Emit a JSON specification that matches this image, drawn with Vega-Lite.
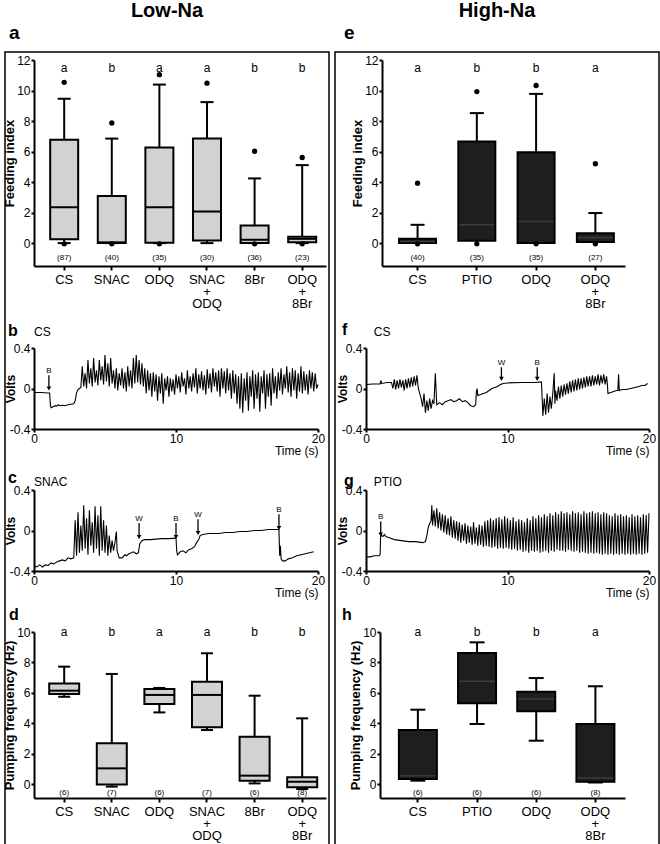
{
"$schema": "https://vega.github.io/schema/vega-lite/v6.json",
"padding": {"left": 3, "top": 0, "right": 3, "bottom": 0},
"config": {
  "font": "Liberation Sans",
  "view": {"stroke": null},
  "axis": {"grid": false, "domainColor": "#000", "domainWidth": 2, "tickColor": "#000", "tickWidth": 2, "labelColor": "#000", "titleColor": "#000", "labelFont": "Liberation Sans", "titleFont": "Liberation Sans", "labelFontSize": 12, "titleFontSize": 13, "titleFontWeight": "bold", "labelOverlap": false},
  "title": {"font": "Liberation Sans", "color": "#000"},
  "text": {"font": "Liberation Sans", "color": "#000", "fill": "#000"}
},
"datasets": {
  "feedLow": [
    {"g": "CS", "lo": 0, "q1": 0.26, "med": 2.35, "q3": 6.78, "hi": 9.46, "sig": "a", "n": "(87)"},
    {"g": "SNAC", "lo": 0, "q1": 0, "med": 0.05, "q3": 3.09, "hi": 6.85, "sig": "b", "n": "(40)"},
    {"g": "ODQ", "lo": 0, "q1": 0.02, "med": 2.35, "q3": 6.26, "hi": 10.39, "sig": "a", "n": "(35)"},
    {"g": "SNAC + ODQ", "lo": 0, "q1": 0.17, "med": 2.07, "q3": 6.85, "hi": 9.24, "sig": "a", "n": "(30)"},
    {"g": "8Br", "lo": 0, "q1": 0, "med": 0.22, "q3": 1.15, "hi": 4.24, "sig": "b", "n": "(36)"},
    {"g": "ODQ + 8Br", "lo": 0, "q1": 0.05, "med": 0.28, "q3": 0.42, "hi": 5.11, "sig": "b", "n": "(23)"}
  ],
  "feedLowPts": [
    {"g": "CS", "v": 10.54}, {"g": "CS", "v": -0.05},
    {"g": "SNAC", "v": 7.87}, {"g": "SNAC", "v": -0.05},
    {"g": "ODQ", "v": 11.04}, {"g": "ODQ", "v": -0.05},
    {"g": "SNAC + ODQ", "v": 10.48},
    {"g": "8Br", "v": 6.02}, {"g": "8Br", "v": -0.05},
    {"g": "ODQ + 8Br", "v": 5.61}, {"g": "ODQ + 8Br", "v": -0.05}
  ],
  "feedHigh": [
    {"g": "CS", "lo": 0, "q1": 0, "med": 0.1, "q3": 0.28, "hi": 1.2, "sig": "a", "n": "(40)"},
    {"g": "PTIO", "lo": 0, "q1": 0.15, "med": 1.2, "q3": 6.66, "hi": 8.52, "sig": "b", "n": "(35)"},
    {"g": "ODQ", "lo": 0, "q1": 0, "med": 1.42, "q3": 5.96, "hi": 9.78, "sig": "b", "n": "(35)"},
    {"g": "ODQ + 8Br", "lo": 0, "q1": 0.07, "med": 0.37, "q3": 0.65, "hi": 1.97, "sig": "a", "n": "(27)"}
  ],
  "feedHighPts": [
    {"g": "CS", "v": 3.93}, {"g": "CS", "v": -0.05},
    {"g": "PTIO", "v": 9.93}, {"g": "PTIO", "v": -0.05},
    {"g": "ODQ", "v": 10.33}, {"g": "ODQ", "v": -0.05},
    {"g": "ODQ + 8Br", "v": 5.2}, {"g": "ODQ + 8Br", "v": -0.05}
  ],
  "pumpLow": [
    {"g": "CS", "lo": 5.74, "q1": 5.92, "med": 6.14, "q3": 6.62, "hi": 7.72, "sig": "a", "n": "(6)"},
    {"g": "SNAC", "lo": -0.17, "q1": -0.04, "med": 1.03, "q3": 2.68, "hi": 7.24, "sig": "b", "n": "(7)"},
    {"g": "ODQ", "lo": 4.71, "q1": 5.26, "med": 5.86, "q3": 6.25, "hi": 6.32, "sig": "a", "n": "(6)"},
    {"g": "SNAC + ODQ", "lo": 3.55, "q1": 3.73, "med": 5.86, "q3": 6.73, "hi": 8.6, "sig": "a", "n": "(7)"},
    {"g": "8Br", "lo": 0.04, "q1": 0.22, "med": 0.55, "q3": 3.11, "hi": 5.81, "sig": "b", "n": "(6)"},
    {"g": "ODQ + 8Br", "lo": -0.33, "q1": -0.22, "med": 0.15, "q3": 0.44, "hi": 4.32, "sig": "b", "n": "(8)"}
  ],
  "pumpHigh": [
    {"g": "CS", "lo": 0.22, "q1": 0.33, "med": 0.55, "q3": 3.55, "hi": 4.89, "sig": "a", "n": "(6)"},
    {"g": "PTIO", "lo": 3.95, "q1": 5.31, "med": 6.76, "q3": 8.62, "hi": 9.32, "sig": "b", "n": "(6)"},
    {"g": "ODQ", "lo": 2.85, "q1": 4.78, "med": 5.59, "q3": 6.07, "hi": 6.97, "sig": "b", "n": "(6)"},
    {"g": "ODQ + 8Br", "lo": 0.1, "q1": 0.15, "med": 0.39, "q3": 3.95, "hi": 6.43, "sig": "a", "n": "(8)"}
  ],
  "arB": [{"t": 1.05, "top": 0.13, "tip": 0.0, "lab": "B"}],
  "arC": [{"t": 7.4, "top": 0.075, "tip": -0.065, "lab": "W"}, {"t": 10.0, "top": 0.075, "tip": -0.065, "lab": "B"}, {"t": 11.55, "top": 0.11, "tip": -0.025, "lab": "W"}, {"t": 17.25, "top": 0.16, "tip": 0.025, "lab": "B"}],
  "arF": [{"t": 9.57, "top": 0.21, "tip": 0.095, "lab": "W"}, {"t": 12.1, "top": 0.21, "tip": 0.095, "lab": "B"}],
  "arG": [{"t": 1.04, "top": 0.09, "tip": -0.04, "lab": "B"}],
  "trB": [
    {"t":0,"v":-0.04},{"t":0.5,"v":-0.04},{"t":1.0,"v":-0.045},{"t":1.1,"v":-0.045},{"t":1.15,"v":-0.15},{"t":1.2,"v":-0.19},{"t":1.35,"v":-0.18},{"t":1.5,"v":-0.17},{"t":1.6,"v":-0.175},{"t":1.7,"v":-0.16},{"t":1.8,"v":-0.17},{"t":2.0,"v":-0.165},{"t":2.2,"v":-0.17},{"t":2.4,"v":-0.16},{"t":2.6,"v":-0.155},{"t":2.8,"v":-0.15},{"t":2.9,"v":-0.12},{"t":3.0,"v":-0.04},{"t":3.1,"v":-0.01},{"t":3.2,"v":0.0},{"t":3.3,"v":0.01},
    {"t":3.4,"v":0.22},{"t":3.5,"v":0.02},{"t":3.6,"v":0.15},{"t":3.7,"v":0.0},{"t":3.8,"v":0.28},{"t":3.9,"v":0.05},{"t":4.0,"v":0.2},{"t":4.1,"v":0.02},{"t":4.2,"v":0.3},{"t":4.3,"v":0.06},{"t":4.4,"v":0.18},{"t":4.5,"v":0.03},{"t":4.6,"v":0.28},{"t":4.7,"v":0.08},{"t":4.8,"v":0.22},{"t":4.9,"v":0.04},{"t":5.0,"v":0.33},{"t":5.1,"v":0.07},{"t":5.2,"v":0.25},{"t":5.3,"v":0.02},{"t":5.4,"v":0.3},{"t":5.5,"v":0.05},{"t":5.6,"v":0.18},{"t":5.7,"v":0.0},{"t":5.8,"v":0.2},{"t":5.9,"v":-0.02},{"t":6.0,"v":0.15},{"t":6.1,"v":0.03},{"t":6.2,"v":0.2},{"t":6.3,"v":0.0},{"t":6.4,"v":0.16},{"t":6.5,"v":-0.03},{"t":6.6,"v":0.22},{"t":6.7,"v":0.02},{"t":6.8,"v":0.18},{"t":6.9,"v":0.0},{"t":7.0,"v":0.3},{"t":7.1,"v":0.05},{"t":7.2,"v":0.33},{"t":7.3,"v":0.06},{"t":7.4,"v":0.28},{"t":7.5,"v":0.04},{"t":7.6,"v":0.25},{"t":7.7,"v":0.02},{"t":7.8,"v":0.2},{"t":7.9,"v":-0.05},{"t":8.0,"v":0.18},{"t":8.1,"v":-0.02},{"t":8.2,"v":0.15},{"t":8.3,"v":-0.08},{"t":8.4,"v":0.16},{"t":8.5,"v":-0.03},{"t":8.6,"v":0.14},{"t":8.7,"v":-0.12},{"t":8.8,"v":0.12},{"t":8.9,"v":-0.05},{"t":9.0,"v":0.15},{"t":9.1,"v":-0.15},{"t":9.2,"v":0.1},{"t":9.3,"v":-0.02},{"t":9.4,"v":0.12},{"t":9.5,"v":-0.08},{"t":9.6,"v":0.1},{"t":9.7,"v":-0.03},{"t":9.8,"v":0.09},{"t":9.9,"v":-0.06},
    {"t":10.0,"v":0.14},{"t":10.1,"v":0.0},{"t":10.2,"v":0.12},{"t":10.3,"v":-0.04},{"t":10.4,"v":0.16},{"t":10.5,"v":0.02},{"t":10.6,"v":0.1},{"t":10.7,"v":-0.06},{"t":10.8,"v":0.18},{"t":10.9,"v":0.0},{"t":11.0,"v":0.12},{"t":11.1,"v":-0.03},{"t":11.2,"v":0.15},{"t":11.3,"v":0.01},{"t":11.4,"v":0.2},{"t":11.5,"v":-0.05},{"t":11.6,"v":0.14},{"t":11.7,"v":0.0},{"t":11.8,"v":0.17},{"t":11.9,"v":-0.02},{"t":12.0,"v":0.13},{"t":12.1,"v":-0.06},{"t":12.2,"v":0.19},{"t":12.3,"v":0.0},{"t":12.4,"v":0.15},{"t":12.5,"v":-0.04},{"t":12.6,"v":0.2},{"t":12.7,"v":0.02},{"t":12.8,"v":0.16},{"t":12.9,"v":-0.03},{"t":13.0,"v":0.18},{"t":13.1,"v":-0.08},{"t":13.2,"v":0.2},{"t":13.3,"v":0.0},{"t":13.4,"v":0.17},{"t":13.5,"v":-0.05},{"t":13.6,"v":0.2},{"t":13.7,"v":-0.02},{"t":13.8,"v":0.15},{"t":13.9,"v":-0.1},{"t":14.0,"v":0.18},{"t":14.1,"v":-0.05},{"t":14.2,"v":0.14},{"t":14.3,"v":-0.15},{"t":14.4,"v":0.12},{"t":14.5,"v":-0.2},{"t":14.6,"v":0.15},{"t":14.7,"v":-0.24},{"t":14.8,"v":0.1},{"t":14.9,"v":-0.12},{"t":15.0,"v":0.16},{"t":15.1,"v":-0.22},{"t":15.2,"v":0.12},{"t":15.3,"v":-0.08},{"t":15.4,"v":0.18},{"t":15.5,"v":-0.2},{"t":15.6,"v":0.14},{"t":15.7,"v":-0.1},{"t":15.8,"v":0.16},{"t":15.9,"v":-0.23},{"t":16.0,"v":0.12},{"t":16.1,"v":-0.05},{"t":16.2,"v":0.18},{"t":16.3,"v":-0.2},{"t":16.4,"v":0.14},{"t":16.5,"v":-0.08},{"t":16.6,"v":0.15},{"t":16.7,"v":-0.17},{"t":16.8,"v":0.2},{"t":16.9,"v":-0.05},{"t":17.0,"v":0.12},{"t":17.1,"v":-0.1},{"t":17.2,"v":0.16},{"t":17.3,"v":-0.02},{"t":17.4,"v":0.2},{"t":17.5,"v":-0.06},{"t":17.6,"v":0.14},{"t":17.7,"v":0.0},{"t":17.8,"v":0.22},{"t":17.9,"v":-0.04},{"t":18.0,"v":0.16},{"t":18.1,"v":-0.08},{"t":18.2,"v":0.2},{"t":18.3,"v":-0.02},{"t":18.4,"v":0.18},{"t":18.5,"v":-0.1},{"t":18.6,"v":0.15},{"t":18.7,"v":-0.03},{"t":18.8,"v":0.22},{"t":18.9,"v":-0.05},{"t":19.0,"v":0.17},{"t":19.1,"v":-0.02},{"t":19.2,"v":0.14},{"t":19.3,"v":-0.06},{"t":19.4,"v":0.18},{"t":19.5,"v":0.0},{"t":19.6,"v":0.16},{"t":19.7,"v":-0.03},{"t":19.8,"v":0.15},{"t":19.9,"v":0.0},{"t":20.0,"v":0.04}
  ],
  "trC": [
    {"t":0,"v":-0.35},{"t":0.2,"v":-0.36},{"t":0.4,"v":-0.34},{"t":0.6,"v":-0.36},{"t":0.8,"v":-0.34},{"t":1.0,"v":-0.345},{"t":1.2,"v":-0.32},{"t":1.4,"v":-0.33},{"t":1.6,"v":-0.31},{"t":1.8,"v":-0.3},{"t":2.0,"v":-0.29},{"t":2.2,"v":-0.3},{"t":2.4,"v":-0.27},{"t":2.6,"v":-0.28},{"t":2.8,"v":-0.27},
    {"t":2.9,"v":0.1},{"t":3.0,"v":-0.25},{"t":3.1,"v":0.18},{"t":3.2,"v":-0.22},{"t":3.3,"v":0.05},{"t":3.4,"v":-0.2},{"t":3.5,"v":0.25},{"t":3.6,"v":-0.18},{"t":3.7,"v":0.12},{"t":3.8,"v":-0.24},{"t":3.9,"v":0.2},{"t":4.0,"v":-0.15},{"t":4.1,"v":0.08},{"t":4.2,"v":-0.22},{"t":4.3,"v":0.24},{"t":4.4,"v":-0.18},{"t":4.5,"v":0.15},{"t":4.6,"v":-0.25},{"t":4.7,"v":0.24},{"t":4.8,"v":-0.2},{"t":4.9,"v":0.1},{"t":5.0,"v":-0.22},{"t":5.1,"v":0.05},{"t":5.2,"v":-0.25},{"t":5.3,"v":-0.05},{"t":5.4,"v":-0.22},{"t":5.5,"v":-0.1},{"t":5.6,"v":-0.2},{"t":5.7,"v":-0.12},{"t":5.8,"v":-0.01},{"t":5.85,"v":-0.2},{"t":6.0,"v":-0.27},{"t":6.2,"v":-0.27},{"t":6.4,"v":-0.24},{"t":6.5,"v":-0.25},{"t":6.7,"v":-0.23},{"t":7.0,"v":-0.21},{"t":7.2,"v":-0.23},{"t":7.35,"v":-0.22},{"t":7.45,"v":-0.13},{"t":7.6,"v":-0.1},{"t":7.8,"v":-0.09},{"t":8.2,"v":-0.09},{"t":8.6,"v":-0.085},{"t":9.0,"v":-0.08},{"t":9.5,"v":-0.08},{"t":10.0,"v":-0.075},{"t":10.05,"v":-0.2},{"t":10.1,"v":-0.24},{"t":10.3,"v":-0.21},{"t":10.5,"v":-0.2},{"t":10.7,"v":-0.22},{"t":10.9,"v":-0.19},{"t":11.1,"v":-0.18},{"t":11.3,"v":-0.16},{"t":11.45,"v":-0.12},{"t":11.6,"v":-0.09},{"t":11.7,"v":-0.05},{"t":11.9,"v":-0.04},{"t":12.3,"v":-0.03},{"t":13.0,"v":-0.03},{"t":13.5,"v":-0.02},{"t":14.0,"v":-0.02},{"t":14.5,"v":-0.01},{"t":15.0,"v":-0.01},{"t":15.5,"v":0.0},{"t":16.0,"v":0.0},{"t":16.5,"v":0.01},{"t":17.0,"v":0.01},{"t":17.25,"v":0.01},{"t":17.3,"v":-0.25},{"t":17.35,"v":-0.15},{"t":17.4,"v":-0.28},{"t":17.5,"v":-0.3},{"t":17.7,"v":-0.3},{"t":17.9,"v":-0.28},{"t":18.2,"v":-0.27},{"t":18.5,"v":-0.25},{"t":18.8,"v":-0.24},{"t":19.1,"v":-0.23},{"t":19.4,"v":-0.22},{"t":19.7,"v":-0.21}
  ],
  "trF": [
    {"t":0,"v":0.04},{"t":0.5,"v":0.045},{"t":1.0,"v":0.045},{"t":1.05,"v":0.08},{"t":1.1,"v":0.05},{"t":1.5,"v":0.06},{"t":1.8,"v":0.06},{"t":1.9,"v":0.0},{"t":2.0,"v":0.09},{"t":2.1,"v":-0.01},{"t":2.2,"v":0.08},{"t":2.3,"v":0.0},{"t":2.4,"v":0.09},{"t":2.5,"v":0.01},{"t":2.6,"v":0.08},{"t":2.7,"v":-0.02},{"t":2.8,"v":0.09},{"t":2.9,"v":0.0},{"t":3.0,"v":0.1},{"t":3.1,"v":0.01},{"t":3.2,"v":0.11},{"t":3.3,"v":0.02},{"t":3.4,"v":0.12},{"t":3.5,"v":0.03},{"t":3.6,"v":0.13},{"t":3.7,"v":0.0},{"t":3.8,"v":-0.05},{"t":3.9,"v":-0.1},{"t":4.0,"v":-0.18},{"t":4.1,"v":-0.05},{"t":4.2,"v":-0.24},{"t":4.3,"v":-0.12},{"t":4.4,"v":-0.22},{"t":4.5,"v":-0.1},{"t":4.6,"v":-0.2},{"t":4.7,"v":-0.12},{"t":4.8,"v":-0.15},{"t":4.9,"v":0.15},{"t":5.0,"v":-0.16},{"t":5.2,"v":-0.14},{"t":5.4,"v":-0.16},{"t":5.6,"v":-0.13},{"t":5.8,"v":-0.12},{"t":6.0,"v":-0.11},{"t":6.2,"v":-0.13},{"t":6.4,"v":-0.12},{"t":6.6,"v":-0.1},{"t":6.8,"v":-0.13},{"t":7.0,"v":-0.12},{"t":7.2,"v":-0.14},{"t":7.4,"v":-0.17},{"t":7.6,"v":-0.18},{"t":7.75,"v":-0.16},{"t":7.8,"v":-0.03},{"t":7.85,"v":0.0},{"t":7.9,"v":-0.07},{"t":8.1,"v":-0.06},{"t":8.3,"v":-0.05},{"t":8.5,"v":-0.04},{"t":8.7,"v":-0.02},{"t":8.9,"v":0.0},{"t":9.1,"v":0.01},{"t":9.3,"v":0.02},{"t":9.5,"v":0.04},{"t":9.7,"v":0.05},{"t":10,"v":0.055},{"t":11,"v":0.06},{"t":12,"v":0.06},{"t":12.4,"v":0.065},{"t":12.45,"v":-0.1},{"t":12.5,"v":-0.27},{"t":12.6,"v":-0.1},{"t":12.7,"v":-0.26},{"t":12.8,"v":-0.05},{"t":12.9,"v":-0.24},{"t":13.0,"v":-0.08},{"t":13.1,"v":-0.2},{"t":13.2,"v":-0.05},{"t":13.3,"v":0.15},{"t":13.35,"v":-0.15},{"t":13.4,"v":-0.02},{"t":13.5,"v":-0.12},{"t":13.6,"v":0.02},{"t":13.7,"v":-0.1},{"t":13.8,"v":0.03},{"t":13.9,"v":-0.08},{"t":14.0,"v":0.04},{"t":14.1,"v":-0.06},{"t":14.2,"v":0.05},{"t":14.3,"v":-0.05},{"t":14.4,"v":0.07},{"t":14.5,"v":-0.04},{"t":14.6,"v":0.08},{"t":14.7,"v":-0.03},{"t":14.8,"v":0.09},{"t":14.9,"v":-0.02},{"t":15.0,"v":0.1},{"t":15.1,"v":-0.01},{"t":15.2,"v":0.1},{"t":15.3,"v":0.0},{"t":15.4,"v":0.11},{"t":15.5,"v":0.01},{"t":15.6,"v":0.12},{"t":15.7,"v":0.02},{"t":15.8,"v":0.12},{"t":15.9,"v":0.02},{"t":16.0,"v":0.13},{"t":16.1,"v":0.03},{"t":16.2,"v":0.12},{"t":16.3,"v":0.04},{"t":16.4,"v":0.14},{"t":16.5,"v":0.03},{"t":16.6,"v":0.13},{"t":16.7,"v":0.05},{"t":16.8,"v":0.14},{"t":16.9,"v":0.04},{"t":17.0,"v":0.12},{"t":17.05,"v":0.06},{"t":17.1,"v":-0.05},{"t":17.3,"v":-0.04},{"t":17.5,"v":-0.03},{"t":17.7,"v":-0.02},{"t":17.8,"v":-0.02},{"t":17.85,"v":0.14},{"t":17.9,"v":-0.02},{"t":18.1,"v":-0.01},{"t":18.4,"v":-0.01},{"t":18.7,"v":0.0},{"t":19.0,"v":0.01},{"t":19.3,"v":0.02},{"t":19.5,"v":0.03},{"t":19.7,"v":0.03},{"t":19.9,"v":0.05}
  ],
  "trG": [
    {"t":0,"v":-0.26},{"t":0.3,"v":-0.26},{"t":0.6,"v":-0.25},{"t":0.9,"v":-0.25},{"t":1.0,"v":-0.24},{"t":1.03,"v":-0.06},{"t":1.1,"v":-0.05},{"t":1.2,"v":-0.06},{"t":1.3,"v":-0.04},{"t":1.4,"v":-0.06},{"t":1.6,"v":-0.07},{"t":1.8,"v":-0.08},{"t":2.0,"v":-0.09},{"t":2.5,"v":-0.1},{"t":3.0,"v":-0.11},{"t":3.5,"v":-0.11},{"t":4.0,"v":-0.12},{"t":4.2,"v":-0.11},{"t":4.3,"v":-0.05},{"t":4.4,"v":0.03},{"t":4.5,"v":0.07},{"t":4.6,"v":0.1},{"t":4.65,"v":0.25},
    {"t":4.7,"v":0.05},{"t":4.8,"v":0.2},{"t":4.9,"v":0.04},{"t":5.0,"v":0.22},{"t":5.1,"v":0.02},{"t":5.2,"v":0.18},{"t":5.3,"v":0.0},{"t":5.4,"v":0.16},{"t":5.5,"v":-0.02},{"t":5.6,"v":0.15},{"t":5.7,"v":-0.04},{"t":5.8,"v":0.12},{"t":5.9,"v":-0.05},{"t":6.0,"v":0.14},{"t":6.1,"v":-0.07},{"t":6.2,"v":0.1},{"t":6.3,"v":-0.08},{"t":6.4,"v":0.09},{"t":6.5,"v":-0.1},{"t":6.6,"v":0.08},{"t":6.7,"v":-0.12},{"t":6.8,"v":0.06},{"t":6.9,"v":-0.1},{"t":7.0,"v":0.07},{"t":7.1,"v":-0.13},{"t":7.2,"v":0.05},{"t":7.3,"v":-0.12},{"t":7.4,"v":0.04},{"t":7.5,"v":-0.14},{"t":7.6,"v":0.08},{"t":7.7,"v":-0.13},{"t":7.8,"v":0.03},{"t":7.9,"v":-0.15},{"t":8.0,"v":0.06},{"t":8.1,"v":-0.14},{"t":8.2,"v":0.05},{"t":8.3,"v":-0.16},{"t":8.4,"v":0.09},{"t":8.5,"v":-0.15},{"t":8.6,"v":0.1},{"t":8.7,"v":-0.16},{"t":8.8,"v":0.12},{"t":8.9,"v":-0.17},{"t":9.0,"v":0.1},{"t":9.1,"v":-0.16},{"t":9.2,"v":0.12},{"t":9.3,"v":-0.18},{"t":9.4,"v":0.13},{"t":9.5,"v":-0.17},{"t":9.6,"v":0.11},{"t":9.7,"v":-0.18},{"t":9.8,"v":0.14},{"t":9.9,"v":-0.17},
    {"t":10.0,"v":0.12},{"t":10.1,"v":-0.18},{"t":10.2,"v":0.1},{"t":10.3,"v":-0.19},{"t":10.4,"v":0.13},{"t":10.5,"v":-0.18},{"t":10.6,"v":0.09},{"t":10.7,"v":-0.2},{"t":10.8,"v":0.11},{"t":10.9,"v":-0.19},{"t":11.0,"v":0.1},{"t":11.1,"v":-0.21},{"t":11.2,"v":0.08},{"t":11.3,"v":-0.2},{"t":11.4,"v":0.12},{"t":11.5,"v":-0.22},{"t":11.6,"v":0.1},{"t":11.7,"v":-0.2},{"t":11.8,"v":0.14},{"t":11.9,"v":-0.21},{"t":12.0,"v":0.12},{"t":12.1,"v":-0.2},{"t":12.2,"v":0.15},{"t":12.3,"v":-0.22},{"t":12.4,"v":0.13},{"t":12.5,"v":-0.21},{"t":12.6,"v":0.16},{"t":12.7,"v":-0.2},{"t":12.8,"v":0.14},{"t":12.9,"v":-0.22},{"t":13.0,"v":0.17},{"t":13.1,"v":-0.2},{"t":13.2,"v":0.15},{"t":13.3,"v":-0.21},{"t":13.4,"v":0.18},{"t":13.5,"v":-0.19},{"t":13.6,"v":0.16},{"t":13.7,"v":-0.2},{"t":13.8,"v":0.19},{"t":13.9,"v":-0.2},{"t":14.0,"v":0.17},{"t":14.1,"v":-0.21},{"t":14.2,"v":0.18},{"t":14.3,"v":-0.19},{"t":14.4,"v":0.16},{"t":14.5,"v":-0.2},{"t":14.6,"v":0.19},{"t":14.7,"v":-0.21},{"t":14.8,"v":0.17},{"t":14.9,"v":-0.2},{"t":15.0,"v":0.18},{"t":15.1,"v":-0.22},{"t":15.2,"v":0.16},{"t":15.3,"v":-0.21},{"t":15.4,"v":0.19},{"t":15.5,"v":-0.22},{"t":15.6,"v":0.17},{"t":15.7,"v":-0.23},{"t":15.8,"v":0.18},{"t":15.9,"v":-0.22},{"t":16.0,"v":0.19},{"t":16.1,"v":-0.23},{"t":16.2,"v":0.17},{"t":16.3,"v":-0.22},{"t":16.4,"v":0.18},{"t":16.5,"v":-0.23},{"t":16.6,"v":0.16},{"t":16.7,"v":-0.24},{"t":16.8,"v":0.18},{"t":16.9,"v":-0.23},{"t":17.0,"v":0.17},{"t":17.1,"v":-0.24},{"t":17.2,"v":0.15},{"t":17.3,"v":-0.23},{"t":17.4,"v":0.14},{"t":17.5,"v":-0.24},{"t":17.6,"v":0.17},{"t":17.7,"v":-0.23},{"t":17.8,"v":0.15},{"t":17.9,"v":-0.24},{"t":18.0,"v":0.16},{"t":18.1,"v":-0.23},{"t":18.2,"v":0.14},{"t":18.3,"v":-0.24},{"t":18.4,"v":0.15},{"t":18.5,"v":-0.23},{"t":18.6,"v":0.13},{"t":18.7,"v":-0.24},{"t":18.8,"v":0.16},{"t":18.9,"v":-0.23},{"t":19.0,"v":0.14},{"t":19.1,"v":-0.24},{"t":19.2,"v":0.15},{"t":19.3,"v":-0.23},{"t":19.4,"v":0.13},{"t":19.5,"v":-0.24},{"t":19.6,"v":0.16},{"t":19.7,"v":-0.23},{"t":19.8,"v":0.15},{"t":19.9,"v":-0.22},{"t":20.0,"v":0.17}
  ]
},
"spacing": 8,
"bounds": "flush",
"vconcat": [
  {
    "spacing": 6, "bounds": "flush",
    "hconcat": [
      {"width": 324, "height": 819, "view": {"stroke": "black", "strokeWidth": 1.5}, "data": {"values": []}, "mark": {"type": "point", "opacity": 0},
       "title": {"text": "Low-Na", "fontSize": 20, "fontWeight": "bold", "anchor": "middle", "frame": "group", "baseline": "alphabetic", "offset": 15}},
      {"width": 324, "height": 819, "view": {"stroke": "black", "strokeWidth": 1.5}, "data": {"values": []}, "mark": {"type": "point", "opacity": 0},
       "title": {"text": "High-Na", "fontSize": 20, "fontWeight": "bold", "anchor": "middle", "frame": "group", "baseline": "alphabetic", "offset": 15}}
    ]
  },
  {
    "spacing": 28, "bounds": "flush",
    "hconcat": [
      {"width": 1, "height": 1, "data": {"values": []}, "mark": {"type": "point", "opacity": 0}},
      {
        "spacing": 11,
        "vconcat": [
          {
            "spacing": 56, "bounds": "flush",
            "hconcat": [
              {
                "width": 292, "height": 206,
                "title": {"text": "a", "anchor": "start", "frame": "group", "dx": -25, "offset": -4, "baseline": "alphabetic", "fontSize": 19, "fontWeight": "bold"},
                "encoding": {"x": {"field": "g", "type": "nominal", "scale": {"domain": ["CS", "SNAC", "ODQ", "SNAC + ODQ", "8Br", "ODQ + 8Br"], "paddingInner": 0, "paddingOuter": 0.067, "align": 1},
                  "axis": {"title": null, "labelAngle": 0, "labelFontSize": 13, "tickSize": 4, "labelPadding": 3, "labelExpr": "split(datum.label, ' ')", "labelLineHeight": 12, "labelBaseline": "top"}}},
                "layer": [
                  {"data": {"name": "feedLow"}, "mark": {"type": "rule", "color": "black", "strokeWidth": 2},
                   "encoding": {"y": {"field": "lo", "type": "quantitative", "scale": {"domain": [-1.5, 12], "nice": false, "zero": false},
                     "axis": {"values": [0, 2, 4, 6, 8, 10, 12], "tickCount": 7, "labelOverlap": false, "title": "Feeding index", "tickSize": 3, "labelPadding": 1, "titlePadding": 0}}, "y2": {"field": "hi"}}},
                  {"data": {"name": "feedLow"}, "mark": {"type": "bar", "size": 28, "fill": "#d2d2d2", "stroke": "black", "strokeWidth": 2, "opacity": 1},
                   "encoding": {"y": {"field": "q1", "type": "quantitative"}, "y2": {"field": "q3"}}},
                  {"data": {"name": "feedLow"}, "mark": {"type": "tick", "size": 28, "thickness": 2, "color": "black", "opacity": 1},
                   "encoding": {"y": {"field": "med", "type": "quantitative"}}},
                  {"data": {"name": "feedLow"}, "mark": {"type": "tick", "size": 13, "thickness": 2, "color": "black", "opacity": 1},
                   "encoding": {"y": {"field": "hi", "type": "quantitative"}}},
                  {"data": {"name": "feedLow"}, "mark": {"type": "tick", "size": 13, "thickness": 2, "color": "black", "opacity": 1},
                   "encoding": {"y": {"field": "lo", "type": "quantitative"}}},
                  {"data": {"name": "feedLowPts"}, "mark": {"type": "point", "filled": true, "color": "black", "size": 28, "opacity": 1},
                   "encoding": {"y": {"field": "v", "type": "quantitative"}}},
                  {"data": {"name": "feedLow"}, "mark": {"type": "text", "fontSize": 12, "color": "black"},
                   "encoding": {"y": {"datum": 11.5, "type": "quantitative"}, "text": {"field": "sig"}}},
                  {"data": {"name": "feedLow"}, "mark": {"type": "text", "fontSize": 8, "color": "black"},
                   "encoding": {"y": {"datum": -1.0, "type": "quantitative"}, "text": {"field": "n"}}}
                ]
              },
              {
                "width": 243, "height": 206,
                "title": {"text": "e", "anchor": "start", "frame": "group", "dx": -38, "offset": -4, "baseline": "alphabetic", "fontSize": 19, "fontWeight": "bold"},
                "encoding": {"x": {"field": "g", "type": "nominal", "scale": {"domain": ["CS", "PTIO", "ODQ", "ODQ + 8Br"], "paddingInner": 0, "paddingOuter": 0.05, "align": 1},
                  "axis": {"title": null, "labelAngle": 0, "labelFontSize": 13, "tickSize": 4, "labelPadding": 3, "labelExpr": "split(datum.label, ' ')", "labelLineHeight": 12, "labelBaseline": "top"}}},
                "layer": [
                  {"data": {"name": "feedHigh"}, "mark": {"type": "rule", "color": "black", "strokeWidth": 2},
                   "encoding": {"y": {"field": "lo", "type": "quantitative", "scale": {"domain": [-1.5, 12], "nice": false, "zero": false},
                     "axis": {"values": [0, 2, 4, 6, 8, 10, 12], "tickCount": 7, "labelOverlap": false, "title": "Feeding index", "tickSize": 3, "labelPadding": 1, "titlePadding": 0}}, "y2": {"field": "hi"}}},
                  {"data": {"name": "feedHigh"}, "mark": {"type": "bar", "size": 37, "fill": "#1e1e1e", "stroke": "black", "strokeWidth": 2, "opacity": 1},
                   "encoding": {"y": {"field": "q1", "type": "quantitative"}, "y2": {"field": "q3"}}},
                  {"data": {"name": "feedHigh"}, "mark": {"type": "tick", "size": 35, "thickness": 1.5, "color": "#3c3c3c", "opacity": 1},
                   "encoding": {"y": {"field": "med", "type": "quantitative"}}},
                  {"data": {"name": "feedHigh"}, "mark": {"type": "tick", "size": 14, "thickness": 2, "color": "black", "opacity": 1},
                   "encoding": {"y": {"field": "hi", "type": "quantitative"}}},
                  {"data": {"name": "feedHighPts"}, "mark": {"type": "point", "filled": true, "color": "black", "size": 28, "opacity": 1},
                   "encoding": {"y": {"field": "v", "type": "quantitative"}}},
                  {"data": {"name": "feedHigh"}, "mark": {"type": "text", "fontSize": 12, "color": "black"},
                   "encoding": {"y": {"datum": 11.5, "type": "quantitative"}, "text": {"field": "sig"}}},
                  {"data": {"name": "feedHigh"}, "mark": {"type": "text", "fontSize": 8, "color": "black"},
                   "encoding": {"y": {"datum": -1.0, "type": "quantitative"}, "text": {"field": "n"}}}
                ]
              }
            ]
          },
          {
            "columns": 2, "spacing": {"row": 61, "column": 40}, "bounds": "flush",
            "concat": [
              {
                "width": 284, "height": 81,
                "title": {"text": "b", "anchor": "start", "frame": "group", "dx": -26, "offset": -26, "baseline": "alphabetic", "fontSize": 16, "fontWeight": "bold"},
                "layer": [
                  {"data": {"name": "trB"}, "mark": {"type": "line", "color": "black", "strokeWidth": 1.1},
                   "encoding": {
                     "x": {"field": "t", "type": "quantitative", "scale": {"domain": [0, 20], "nice": false}, "axis": {"values": [0, 10, 20], "title": "Time (s)", "titleFontWeight": "normal", "titleFontSize": 12, "titleAnchor": "end", "titlePadding": 1, "tickSize": 3, "labelPadding": 1, "labelFlush": false}},
                     "y": {"field": "v", "type": "quantitative", "scale": {"domain": [-0.4, 0.4], "nice": false, "zero": false}, "axis": {"values": [-0.4, 0, 0.4], "labelExpr": "datum.value == 0 ? '0' : (datum.value > 0 ? '0.4' : '-0.4')", "title": "Volts", "titleFontSize": 12, "tickSize": 3, "labelPadding": 1, "titlePadding": -8}}}},
                  {"data": {"name": "arB"}, "mark": {"type": "rule", "color": "black", "strokeWidth": 1.3},
                   "encoding": {"x": {"field": "t", "type": "quantitative"}, "y": {"field": "top", "type": "quantitative"}, "y2": {"field": "tip"}}},
                  {"data": {"name": "arB"}, "mark": {"type": "point", "shape": "triangle-down", "filled": true, "color": "black", "size": 22, "opacity": 1},
                   "encoding": {"x": {"field": "t", "type": "quantitative"}, "y": {"field": "tip", "type": "quantitative"}}},
                  {"data": {"name": "arB"}, "mark": {"type": "text", "fontSize": 8, "dy": -2, "baseline": "alphabetic", "color": "black"},
                   "encoding": {"x": {"field": "t", "type": "quantitative"}, "y": {"field": "top", "type": "quantitative"}, "text": {"field": "lab"}}},
                  {"data": {"values": [{"lab": "CS"}]}, "mark": {"type": "text", "fontSize": 12, "align": "left", "baseline": "alphabetic", "color": "black"},
                   "encoding": {"x": {"datum": 0, "type": "quantitative"}, "y": {"datum": 0.52, "type": "quantitative"}, "text": {"field": "lab"}}}
                ]
              },
              {
                "width": 283, "height": 81,
                "title": {"text": "f", "anchor": "start", "frame": "group", "dx": -24, "offset": -25, "baseline": "alphabetic", "fontSize": 16, "fontWeight": "bold"},
                "layer": [
                  {"data": {"name": "trF"}, "mark": {"type": "line", "color": "black", "strokeWidth": 1.1},
                   "encoding": {
                     "x": {"field": "t", "type": "quantitative", "scale": {"domain": [0, 20], "nice": false}, "axis": {"values": [0, 10, 20], "title": "Time (s)", "titleFontWeight": "normal", "titleFontSize": 12, "titleAnchor": "end", "titlePadding": 1, "tickSize": 3, "labelPadding": 1, "labelFlush": false}},
                     "y": {"field": "v", "type": "quantitative", "scale": {"domain": [-0.4, 0.4], "nice": false, "zero": false}, "axis": {"values": [-0.4, 0, 0.4], "labelExpr": "datum.value == 0 ? '0' : (datum.value > 0 ? '0.4' : '-0.4')", "title": "Volts", "titleFontSize": 12, "tickSize": 3, "labelPadding": 1, "titlePadding": -8}}}},
                  {"data": {"name": "arF"}, "mark": {"type": "rule", "color": "black", "strokeWidth": 1.3},
                   "encoding": {"x": {"field": "t", "type": "quantitative"}, "y": {"field": "top", "type": "quantitative"}, "y2": {"field": "tip"}}},
                  {"data": {"name": "arF"}, "mark": {"type": "point", "shape": "triangle-down", "filled": true, "color": "black", "size": 22, "opacity": 1},
                   "encoding": {"x": {"field": "t", "type": "quantitative"}, "y": {"field": "tip", "type": "quantitative"}}},
                  {"data": {"name": "arF"}, "mark": {"type": "text", "fontSize": 8, "dy": -2, "baseline": "alphabetic", "color": "black"},
                   "encoding": {"x": {"field": "t", "type": "quantitative"}, "y": {"field": "top", "type": "quantitative"}, "text": {"field": "lab"}}},
                  {"data": {"values": [{"lab": "CS"}]}, "mark": {"type": "text", "fontSize": 12, "align": "left", "baseline": "alphabetic", "color": "black"},
                   "encoding": {"x": {"datum": 0.55, "type": "quantitative"}, "y": {"datum": 0.52, "type": "quantitative"}, "text": {"field": "lab"}}}
                ]
              },
              {
                "width": 284, "height": 81,
                "title": {"text": "c", "anchor": "start", "frame": "group", "dx": -26, "offset": -23, "baseline": "alphabetic", "fontSize": 16, "fontWeight": "bold"},
                "layer": [
                  {"data": {"name": "trC"}, "mark": {"type": "line", "color": "black", "strokeWidth": 1.1},
                   "encoding": {
                     "x": {"field": "t", "type": "quantitative", "scale": {"domain": [0, 20], "nice": false}, "axis": {"values": [0, 10, 20], "title": "Time (s)", "titleFontWeight": "normal", "titleFontSize": 12, "titleAnchor": "end", "titlePadding": 1, "tickSize": 3, "labelPadding": 1, "labelFlush": false}},
                     "y": {"field": "v", "type": "quantitative", "scale": {"domain": [-0.4, 0.4], "nice": false, "zero": false}, "axis": {"values": [-0.4, 0, 0.4], "labelExpr": "datum.value == 0 ? '0' : (datum.value > 0 ? '0.4' : '-0.4')", "title": "Volts", "titleFontSize": 12, "tickSize": 3, "labelPadding": 1, "titlePadding": -8}}}},
                  {"data": {"name": "arC"}, "mark": {"type": "rule", "color": "black", "strokeWidth": 1.3},
                   "encoding": {"x": {"field": "t", "type": "quantitative"}, "y": {"field": "top", "type": "quantitative"}, "y2": {"field": "tip"}}},
                  {"data": {"name": "arC"}, "mark": {"type": "point", "shape": "triangle-down", "filled": true, "color": "black", "size": 22, "opacity": 1},
                   "encoding": {"x": {"field": "t", "type": "quantitative"}, "y": {"field": "tip", "type": "quantitative"}}},
                  {"data": {"name": "arC"}, "mark": {"type": "text", "fontSize": 8, "dy": -2, "baseline": "alphabetic", "color": "black"},
                   "encoding": {"x": {"field": "t", "type": "quantitative"}, "y": {"field": "top", "type": "quantitative"}, "text": {"field": "lab"}}},
                  {"data": {"values": [{"lab": "SNAC"}]}, "mark": {"type": "text", "fontSize": 12, "align": "left", "baseline": "alphabetic", "color": "black"},
                   "encoding": {"x": {"datum": 0, "type": "quantitative"}, "y": {"datum": 0.44, "type": "quantitative"}, "text": {"field": "lab"}}}
                ]
              },
              {
                "width": 283, "height": 81,
                "title": {"text": "g", "anchor": "start", "frame": "group", "dx": -22, "offset": -26, "baseline": "alphabetic", "fontSize": 16, "fontWeight": "bold"},
                "layer": [
                  {"data": {"name": "trG"}, "mark": {"type": "line", "color": "black", "strokeWidth": 1.1},
                   "encoding": {
                     "x": {"field": "t", "type": "quantitative", "scale": {"domain": [0, 20], "nice": false}, "axis": {"values": [0, 10, 20], "title": "Time (s)", "titleFontWeight": "normal", "titleFontSize": 12, "titleAnchor": "end", "titlePadding": 1, "tickSize": 3, "labelPadding": 1, "labelFlush": false}},
                     "y": {"field": "v", "type": "quantitative", "scale": {"domain": [-0.4, 0.4], "nice": false, "zero": false}, "axis": {"values": [-0.4, 0, 0.4], "labelExpr": "datum.value == 0 ? '0' : (datum.value > 0 ? '0.4' : '-0.4')", "title": "Volts", "titleFontSize": 12, "tickSize": 3, "labelPadding": 1, "titlePadding": -8}}}},
                  {"data": {"name": "arG"}, "mark": {"type": "rule", "color": "black", "strokeWidth": 1.3},
                   "encoding": {"x": {"field": "t", "type": "quantitative"}, "y": {"field": "top", "type": "quantitative"}, "y2": {"field": "tip"}}},
                  {"data": {"name": "arG"}, "mark": {"type": "point", "shape": "triangle-down", "filled": true, "color": "black", "size": 22, "opacity": 1},
                   "encoding": {"x": {"field": "t", "type": "quantitative"}, "y": {"field": "tip", "type": "quantitative"}}},
                  {"data": {"name": "arG"}, "mark": {"type": "text", "fontSize": 8, "dy": -2, "baseline": "alphabetic", "color": "black"},
                   "encoding": {"x": {"field": "t", "type": "quantitative"}, "y": {"field": "top", "type": "quantitative"}, "text": {"field": "lab"}}},
                  {"data": {"values": [{"lab": "PTIO"}]}, "mark": {"type": "text", "fontSize": 12, "align": "left", "baseline": "alphabetic", "color": "black"},
                   "encoding": {"x": {"datum": 0.55, "type": "quantitative"}, "y": {"datum": 0.44, "type": "quantitative"}, "text": {"field": "lab"}}}
                ]
              },
              {
                "width": 292, "height": 166,
                "title": {"text": "d", "anchor": "start", "frame": "group", "dx": -25, "offset": -10, "baseline": "alphabetic", "fontSize": 16, "fontWeight": "bold"},
                "encoding": {"x": {"field": "g", "type": "nominal", "scale": {"domain": ["CS", "SNAC", "ODQ", "SNAC + ODQ", "8Br", "ODQ + 8Br"], "paddingInner": 0, "paddingOuter": 0.067, "align": 1},
                  "axis": {"title": null, "labelAngle": 0, "labelFontSize": 13, "tickSize": 4, "labelPadding": 3, "labelExpr": "split(datum.label, ' ')", "labelLineHeight": 12, "labelBaseline": "top"}}},
                "layer": [
                  {"data": {"name": "pumpLow"}, "mark": {"type": "rule", "color": "black", "strokeWidth": 2},
                   "encoding": {"y": {"field": "lo", "type": "quantitative", "scale": {"domain": [-0.92, 10], "nice": false, "zero": false},
                     "axis": {"values": [0, 2, 4, 6, 8, 10], "tickCount": 6, "labelOverlap": false, "title": "Pumping frequency (Hz)", "tickSize": 3, "labelPadding": 1, "titlePadding": 0}}, "y2": {"field": "hi"}}},
                  {"data": {"name": "pumpLow"}, "mark": {"type": "bar", "size": 30, "fill": "#d2d2d2", "stroke": "black", "strokeWidth": 2, "opacity": 1},
                   "encoding": {"y": {"field": "q1", "type": "quantitative"}, "y2": {"field": "q3"}}},
                  {"data": {"name": "pumpLow"}, "mark": {"type": "tick", "size": 30, "thickness": 2, "color": "black", "opacity": 1},
                   "encoding": {"y": {"field": "med", "type": "quantitative"}}},
                  {"data": {"name": "pumpLow"}, "mark": {"type": "tick", "size": 12, "thickness": 2, "color": "black", "opacity": 1},
                   "encoding": {"y": {"field": "hi", "type": "quantitative"}}},
                  {"data": {"name": "pumpLow"}, "mark": {"type": "tick", "size": 12, "thickness": 2, "color": "black", "opacity": 1},
                   "encoding": {"y": {"field": "lo", "type": "quantitative"}}},
                  {"data": {"name": "pumpLow"}, "mark": {"type": "text", "fontSize": 12, "color": "black"},
                   "encoding": {"y": {"datum": 10, "type": "quantitative"}, "text": {"field": "sig"}}},
                  {"data": {"name": "pumpLow"}, "mark": {"type": "text", "fontSize": 8, "color": "black"},
                   "encoding": {"y": {"datum": -0.62, "type": "quantitative"}, "text": {"field": "n"}}}
                ]
              },
              {
                "spacing": 13, "bounds": "flush",
                "hconcat": [
                  {"width": 1, "height": 1, "data": {"values": []}, "mark": {"type": "point", "opacity": 0}},
                  {
                    "width": 245, "height": 166,
                    "title": {"text": "h", "anchor": "start", "frame": "group", "dx": -38, "offset": -10, "baseline": "alphabetic", "fontSize": 16, "fontWeight": "bold"},
                    "encoding": {"x": {"field": "g", "type": "nominal", "scale": {"domain": ["CS", "PTIO", "ODQ", "ODQ + 8Br"], "paddingInner": 0, "paddingOuter": 0.07, "align": 1},
                      "axis": {"title": null, "labelAngle": 0, "labelFontSize": 13, "tickSize": 4, "labelPadding": 3, "labelExpr": "split(datum.label, ' ')", "labelLineHeight": 12, "labelBaseline": "top"}}},
                    "layer": [
                      {"data": {"name": "pumpHigh"}, "mark": {"type": "rule", "color": "black", "strokeWidth": 2},
                       "encoding": {"y": {"field": "lo", "type": "quantitative", "scale": {"domain": [-0.92, 10], "nice": false, "zero": false},
                         "axis": {"values": [0, 2, 4, 6, 8, 10], "tickCount": 6, "labelOverlap": false, "title": "Pumping frequency (Hz)", "tickSize": 3, "labelPadding": 1, "titlePadding": 0}}, "y2": {"field": "hi"}}},
                      {"data": {"name": "pumpHigh"}, "mark": {"type": "bar", "size": 38, "fill": "#1e1e1e", "stroke": "black", "strokeWidth": 2, "opacity": 1},
                       "encoding": {"y": {"field": "q1", "type": "quantitative"}, "y2": {"field": "q3"}}},
                      {"data": {"name": "pumpHigh"}, "mark": {"type": "tick", "size": 36, "thickness": 1.5, "color": "#3c3c3c", "opacity": 1},
                       "encoding": {"y": {"field": "med", "type": "quantitative"}}},
                      {"data": {"name": "pumpHigh"}, "mark": {"type": "tick", "size": 15, "thickness": 2, "color": "black", "opacity": 1},
                       "encoding": {"y": {"field": "hi", "type": "quantitative"}}},
                      {"data": {"name": "pumpHigh"}, "mark": {"type": "tick", "size": 15, "thickness": 2, "color": "black", "opacity": 1},
                       "encoding": {"y": {"field": "lo", "type": "quantitative"}}},
                      {"data": {"name": "pumpHigh"}, "mark": {"type": "text", "fontSize": 12, "color": "black"},
                       "encoding": {"y": {"datum": 10, "type": "quantitative"}, "text": {"field": "sig"}}},
                      {"data": {"name": "pumpHigh"}, "mark": {"type": "text", "fontSize": 8, "color": "black"},
                       "encoding": {"y": {"datum": -0.62, "type": "quantitative"}, "text": {"field": "n"}}}
                    ]
                  }
                ]
              }
            ]
          }
        ]
      }
    ]
  }
]
}
